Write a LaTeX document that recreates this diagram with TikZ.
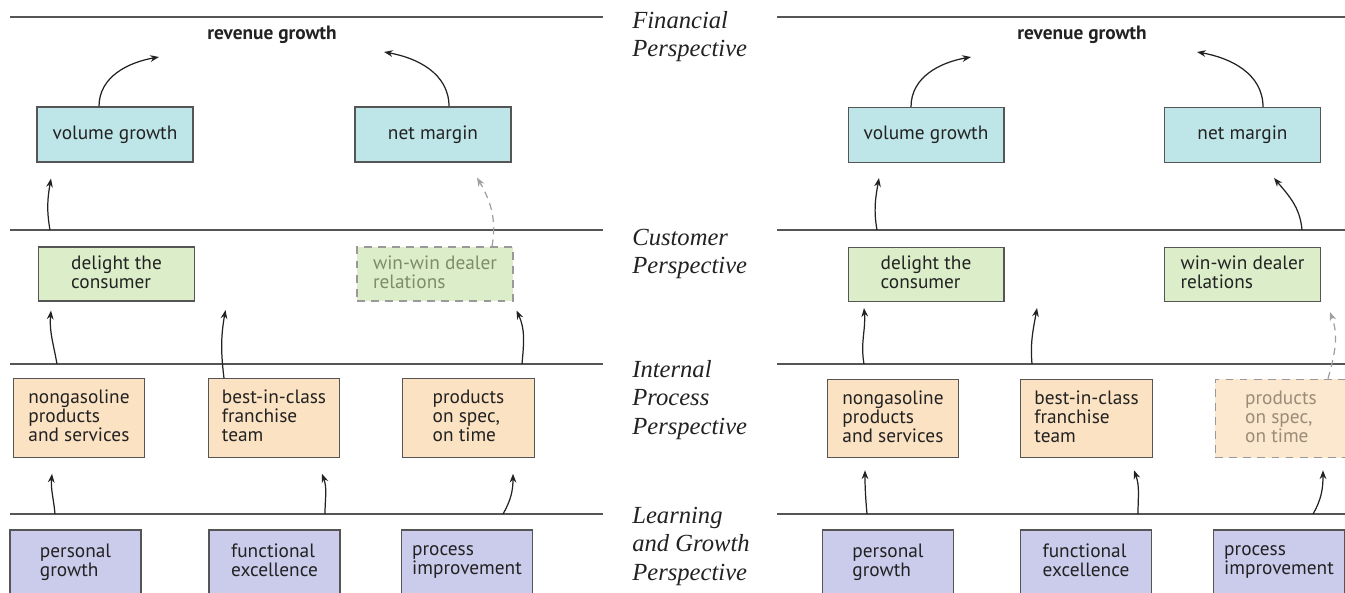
\documentclass[tikz,border=0pt]{standalone}
\usepackage{fontspec}
\usepackage{tikz}
\usetikzlibrary{calc, arrows.meta, positioning}
\newfontfamily\boxfont{PT Sans}
\newfontfamily\perfont{Liberation Serif}
\definecolor{ink}{HTML}{222222}
\definecolor{rulegray}{HTML}{555555}
\definecolor{finfill}{HTML}{BEE5E7}
\definecolor{custfill}{HTML}{DCEEC9}
\definecolor{procfill}{HTML}{FBE2C3}
\definecolor{learnfill}{HTML}{CBCBEC}
\definecolor{fadegreen}{HTML}{7E8C6C}
\definecolor{fadebrown}{HTML}{9C8B79}

\begin{document}
\begin{tikzpicture}[x=0.02cm, y=0.02cm,
  box/.style={draw=rulegray, line width=0.6pt, align=left, inner sep=2pt, text=ink,
    font=\boxfont\fontsize{11}{10.8}\selectfont,
    execute at begin node=\vphantom{l}, execute at end node=\vphantom{g}},
  finbox/.style={box, fill=finfill, minimum width=3.12cm, minimum height=1.1cm},
  custbox/.style={box, fill=custfill, minimum width=3.12cm, minimum height=1.08cm},
  procbox/.style={box, fill=procfill, minimum width=2.63cm, minimum height=1.57cm},
  learnbox/.style={box, fill=learnfill, minimum width=2.62cm, minimum height=1.28cm},
  faded/.style={draw=gray!80, dash pattern=on 4.5pt off 3.5pt},
  divline/.style={draw=rulegray, line width=0.8pt},
  persp/.style={anchor=base west, align=left, inner sep=0pt, text=ink,
    font=\perfont\itshape\fontsize{14}{16.2}\selectfont},
  goal/.style={text=ink, inner sep=0pt, font=\boxfont\bfseries\fontsize{11}{13}\selectfont},
  arr/.style={draw=ink, line width=0.7pt, -{Stealth[length=5pt,width=3.8pt]}},
  darr/.style={arr, draw=gray!75, dash pattern=on 4pt off 3pt}]
\useasboundingbox (0,0) rectangle (1345,-592);

% perspective rules
\draw[divline] (10,-17) -- (603,-17);
\draw[divline] (10,-230) -- (603,-230);
\draw[divline] (10,-364) -- (603,-364);
\draw[divline] (10,-514) -- (603,-514);
\draw[divline] (777,-17) -- (1345,-17);
\draw[divline] (777,-230) -- (1345,-230);
\draw[divline] (777,-364) -- (1345,-364);
\draw[divline] (777,-514) -- (1345,-514);

% perspective names (anchored on the last line)
\node[persp] (finP) at (632,-56.5) {Financial\\Perspective};
\node[persp] (custP) at (632,-273.5) {Customer\\Perspective};
\node[persp] (intP) at (632,-434) {Internal\\Process\\Perspective};
\node[persp] (learnP) at (632,-580) {Learning\\and Growth\\Perspective};

% left map
\node[goal] (revL) at (272,-35) {revenue growth};
\node[finbox] (volL) at (115,-134.5) {volume growth};
\node[finbox] (marL) at (433,-134.5) {net margin};
\node[custbox] (delL) at (116.5,-274) {delight the\\consumer};
\node[custbox, faded, text=fadegreen] (winL) at (435,-274) {win-win dealer\\relations};
\node[procbox] (nongasL) at (79,-418) {nongasoline\\products\\and services};
\node[procbox] (bestL) at (274,-418) {best-in-class\\franchise\\team};
\node[procbox] (specL) at (468.5,-418) {products\\on spec,\\on time};
\node[learnbox] (persL) at (75.5,-562) {personal\\growth};
\node[learnbox] (funcL) at (274.5,-562) {functional\\excellence};
\node[learnbox] (procL) at (467,-562) {process\\improvement};

\coordinate (revLa) at (159,-57);
\coordinate (revLb) at (384,-52);
\coordinate (delLtop) at (225.5,-310);
\coordinate (lnLa) at (50,-230);
\coordinate (lnLb) at (57,-364);
\coordinate (lnLc) at (522,-364);
\coordinate (lnLd) at (55,-514);
\coordinate (lnLe) at (325,-514);
\coordinate (lnLf) at (503,-514);

\draw[arr] ($(volL.north)+(-16,0)$) to[out=90,in=190] (revLa);
\draw[arr] ($(marL.north)+(16,0)$) to[out=90,in=-10] (revLb);
\draw[arr] (lnLa) to[out=100,in=-100] ($(volL.south)+(-64,-16)$);
\draw[darr] ($(winL.north)+(57,0)$) to[out=80,in=-60] ($(marL.south)+(44,-15)$);
\draw[arr] (lnLb) to[out=100,in=-95] ($(delL.south)+(-65.5,-9)$);
\draw[arr] ($(bestL.north)+(-50,0)$) to[out=97,in=-100] (delLtop);
\draw[arr] (lnLc) to[out=85,in=-65] ($(winL.south)+(81.5,-9)$);
\draw[arr] (lnLd) to[out=95,in=-95] ($(nongasL.south)+(-27,-16)$);
\draw[arr] (lnLe) to[out=90,in=-70] ($(bestL.south)+(48,-16)$);
\draw[arr] (lnLf) to[out=60,in=-90] ($(specL.south)+(44.5,-16)$);

% right map
\node[goal] (revR) at (1082,-35) {revenue growth};
\node[finbox] (volR) at (926,-135) {volume growth};
\node[finbox] (marR) at (1242.5,-135) {net margin};
\node[custbox] (delR) at (926,-274.5) {delight the\\consumer};
\node[custbox] (winR) at (1242.5,-274.5) {win-win dealer\\relations};
\node[procbox] (nongasR) at (893,-418.5) {nongasoline\\products\\and services};
\node[procbox] (bestR) at (1086.5,-418.5) {best-in-class\\franchise\\team};
\node[procbox, faded, fill=procfill!80, text=fadebrown] (specR) at (1281,-418.5) {products\\on spec,\\on time};
\node[learnbox] (persR) at (888,-562) {personal\\growth};
\node[learnbox] (funcR) at (1086,-562) {functional\\excellence};
\node[learnbox] (procR) at (1279,-562) {process\\improvement};

\coordinate (revRa) at (971,-57);
\coordinate (revRb) at (1197,-52);
\coordinate (delRtop) at (1037,-308);
\coordinate (lnRa) at (877,-230);
\coordinate (lnRb) at (1302,-230);
\coordinate (lnRc) at (864,-364);
\coordinate (lnRd) at (1032,-364);
\coordinate (lnRe) at (867,-514);
\coordinate (lnRf) at (1138,-514);
\coordinate (lnRg) at (1313,-514);

\draw[arr] ($(volR.north)+(-15,0)$) to[out=90,in=190] (revRa);
\draw[arr] ($(marR.north)+(20.5,0)$) to[out=90,in=-10] (revRb);
\draw[arr] (lnRa) to[out=100,in=-100] ($(volR.south)+(-47,-15)$);
\draw[arr] (lnRb) to[out=95,in=-50] ($(marR.south)+(31.5,-15)$);
\draw[arr] (lnRc) to[out=100,in=-85] ($(delR.south)+(-62,-6)$);
\draw[arr] (lnRd) to[out=95,in=-100] (delRtop);
\draw[darr] ($(specR.north)+(47,0)$) to[out=75,in=-70] ($(winR.south)+(87.5,-10)$);
\draw[arr] (lnRe) to[out=95,in=-90] ($(nongasR.south)+(-28,-12)$);
\draw[arr] (lnRf) to[out=90,in=-70] ($(bestR.south)+(47.5,-12)$);
\draw[arr] (lnRg) to[out=60,in=-90] ($(specR.south)+(42,-12)$);
\end{tikzpicture}
\end{document}
